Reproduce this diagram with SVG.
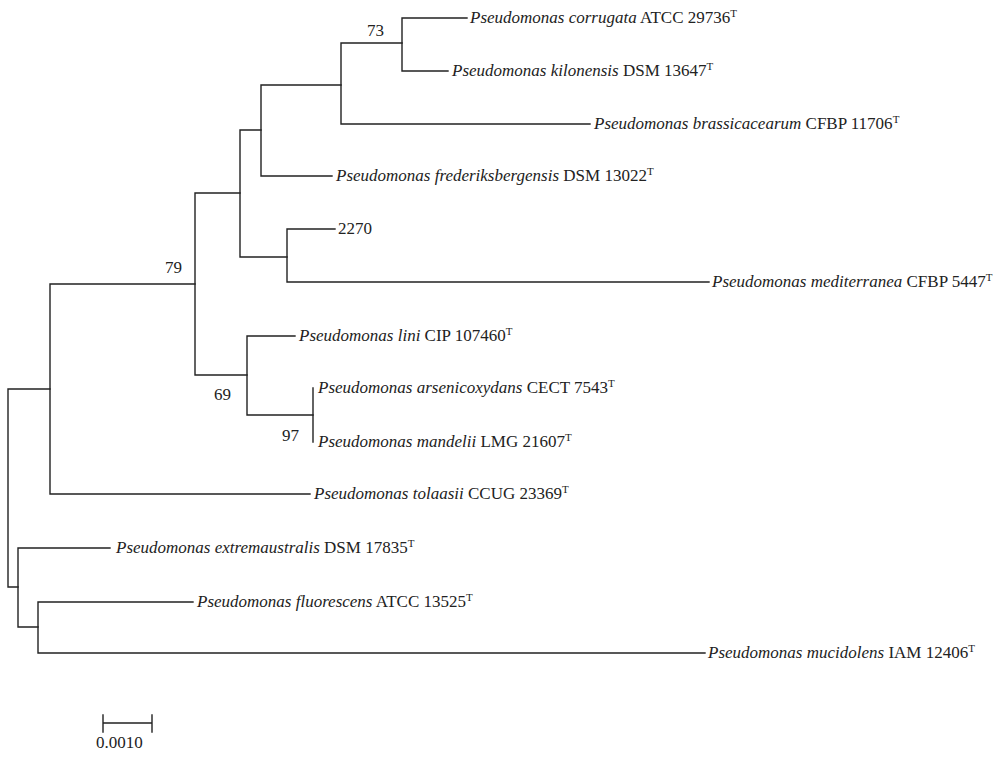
<svg xmlns="http://www.w3.org/2000/svg" width="1000" height="757" viewBox="0 0 1000 757">
<style>
.br{stroke:#222;stroke-width:1.4;fill:none;stroke-linecap:square}
text{font-family:"Liberation Serif","Times New Roman",serif;font-size:17px;fill:#222}
.sp{font-style:italic}
.sup{font-size:11px}
</style>
<rect width="1000" height="757" fill="#fff"/>
<g id="connectors" class="br">
<path d="M8,389 V587 M8,389 H50 M8,587 H18"/>
<path d="M50,284 V494 M50,284 H195 M50,494 H310"/>
<path d="M195,193 V375 M195,193 H240 M195,375 H247"/>
<path d="M240,130 V257 M240,130 H261 M240,257 H287"/>
<path d="M261,85 V176 M261,85 H341 M261,176 H332"/>
<path d="M341,43 V124 M341,43 H402 M341,124 H590"/>
<path d="M402,18 V71 M402,18 H467 M402,71 H448"/>
<path d="M287,229 V282 M287,229 H335 M287,282 H709"/>
<path d="M247,336 V415 M247,336 H295 M247,415 H313"/>
<path d="M313,388 V442"/>
<path d="M18,548 V627 M18,548 H110 M18,627 H38"/>
<path d="M38,602 V653 M38,602 H193 M38,653 H705"/>
</g>
<g id="bootstrap">
<text x="367" y="36">73</text>
<text x="165" y="273">79</text>
<text x="214" y="400">69</text>
<text x="282" y="441">97</text>
</g>
<g id="n-corrugata"><text x="470" y="23"><tspan class="sp">Pseudomonas corrugata</tspan> ATCC 29736<tspan class="sup" dy="-6">T</tspan></text></g>
<g id="n-kilonensis"><text x="452" y="76"><tspan class="sp">Pseudomonas kilonensis</tspan> DSM 13647<tspan class="sup" dy="-6">T</tspan></text></g>
<g id="n-brassicacearum"><text x="594" y="129"><tspan class="sp">Pseudomonas brassicacearum</tspan> CFBP 11706<tspan class="sup" dy="-6">T</tspan></text></g>
<g id="n-frederiksbergensis"><text x="336" y="181"><tspan class="sp">Pseudomonas frederiksbergensis</tspan> DSM 13022<tspan class="sup" dy="-6">T</tspan></text></g>
<g id="n-2270"><text x="338" y="234">2270</text></g>
<g id="n-mediterranea"><text x="712" y="287"><tspan class="sp">Pseudomonas mediterranea</tspan> CFBP 5447<tspan class="sup" dy="-6">T</tspan></text></g>
<g id="n-lini"><text x="299" y="341"><tspan class="sp">Pseudomonas lini</tspan> CIP 107460<tspan class="sup" dy="-6">T</tspan></text></g>
<g id="n-arsenicoxydans"><text x="318" y="393"><tspan class="sp">Pseudomonas arsenicoxydans</tspan> CECT 7543<tspan class="sup" dy="-6">T</tspan></text></g>
<g id="n-mandelii"><text x="318" y="447"><tspan class="sp">Pseudomonas mandelii</tspan> LMG 21607<tspan class="sup" dy="-6">T</tspan></text></g>
<g id="n-tolaasii"><text x="314" y="499"><tspan class="sp">Pseudomonas tolaasii</tspan> CCUG 23369<tspan class="sup" dy="-6">T</tspan></text></g>
<g id="n-extremaustralis"><text x="116" y="553"><tspan class="sp">Pseudomonas extremaustralis</tspan> DSM 17835<tspan class="sup" dy="-6">T</tspan></text></g>
<g id="n-fluorescens"><text x="197" y="607"><tspan class="sp">Pseudomonas fluorescens</tspan> ATCC 13525<tspan class="sup" dy="-6">T</tspan></text></g>
<g id="n-mucidolens"><text x="708" y="658"><tspan class="sp">Pseudomonas mucidolens</tspan> IAM 12406<tspan class="sup" dy="-6">T</tspan></text></g>
<g id="scale">
<path class="br" d="M103,723 H152 M103,715 V732 M152,715 V732"/>
<text x="96" y="748">0.0010</text>
</g>
</svg>
